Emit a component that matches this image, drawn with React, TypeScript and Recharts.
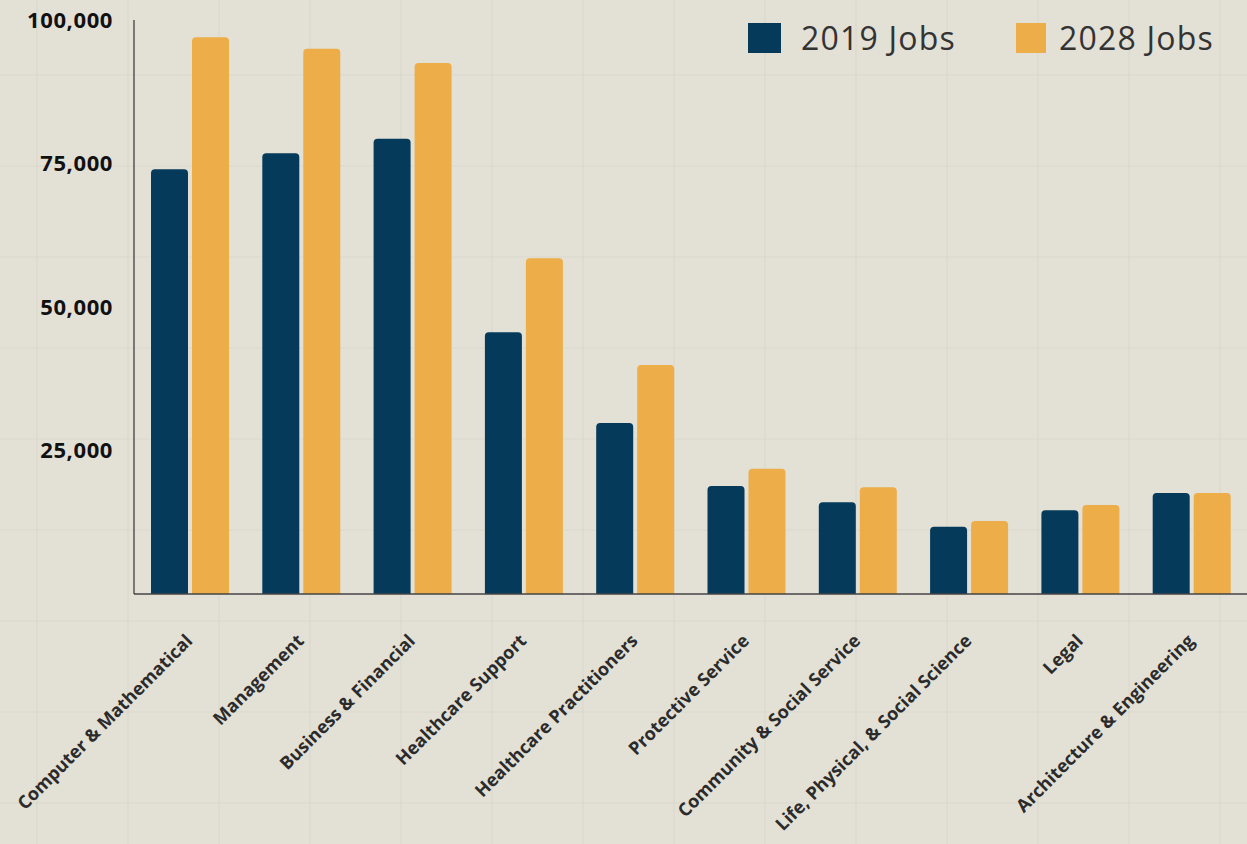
import { BarChart, Bar, XAxis, YAxis } from "recharts";

const categories = [
  "Computer & Mathematical",
  "Management",
  "Business & Financial",
  "Healthcare Support",
  "Healthcare Practitioners",
  "Protective Service",
  "Community & Social Service",
  "Life, Physical, & Social Science",
  "Legal",
  "Architecture & Engineering",
];
const jobs2019 = [74000, 76800, 79300, 45600, 29800, 18800, 16000, 11700, 14600, 17600];
const jobs2028 = [97000, 95000, 92500, 58500, 39900, 21800, 18600, 12700, 15500, 17600];
const yTicks = [0, 25000, 50000, 75000, 100000];

const data = categories.map((c, i) => ({ name: c, j2019: jobs2019[i], j2028: jobs2028[i] }));

const NAVY = "#053A5B";
const GOLD = "#EDAD48";
const FONT = "'Open Sans', 'DejaVu Sans', sans-serif";

function XTick({ x, y, payload }: any) {
  return (
    <g transform={`translate(${x + 4},${y + 40})`}>
      <text textAnchor="end" transform="rotate(-45)" fill="#2b2b2b"
        style={{ fontSize: 18, fontWeight: 700, fontFamily: FONT }}>
        {payload.value}
      </text>
    </g>
  );
}

const legendItems = [
  { c: NAVY, l: "2019 Jobs", left: 748, w: 33 },
  { c: GOLD, l: "2028 Jobs", left: 1016, w: 30 },
];

export default function App() {
  return (
    <div style={{
      position: "absolute", left: 0, top: 0, width: 1247, height: 844,
      background: "#E3E0D6",
      backgroundImage:
        "repeating-linear-gradient(90deg, transparent 0px, transparent 36px, rgba(205,201,189,0.22) 36px, rgba(205,201,189,0.22) 38px, transparent 38px, transparent 91px)," +
        "repeating-linear-gradient(0deg, transparent 0px, transparent 40px, rgba(205,201,189,0.18) 40px, rgba(205,201,189,0.18) 42px, transparent 42px, transparent 91px)",
    }}>
      <style>{"body{margin:0}"}</style>
      <BarChart width={1247} height={844} data={data}
        margin={{ top: 20, right: 0, left: 0, bottom: 0 }}
        barCategoryGap="15%" barGap={4}>
        <XAxis dataKey="name" interval={0} height={250} tick={<XTick />}
          axisLine={{ stroke: "#444", strokeWidth: 1.5 }} tickLine={false} />
        <YAxis width={134} domain={[0, 100000]} ticks={yTicks}
          tickFormatter={(v: number) => (v === 0 ? "" : v.toLocaleString("en-US"))}
          tick={{ fontSize: 22, fontWeight: 700, fill: "#111", fontFamily: FONT, letterSpacing: 0.6 }}
          tickMargin={15} axisLine={{ stroke: "#333", strokeWidth: 1.2 }} tickLine={false} />
        <Bar dataKey="j2019" name="2019 Jobs" fill={NAVY} barSize={37} radius={[4, 4, 0, 0]} isAnimationActive={false} />
        <Bar dataKey="j2028" name="2028 Jobs" fill={GOLD} barSize={37} radius={[4, 4, 0, 0]} isAnimationActive={false} />
      </BarChart>
      {legendItems.map(it => (
        <div key={it.l} style={{ position: "absolute", left: it.left, top: 23, display: "flex", alignItems: "center", fontFamily: FONT }}>
          <div style={{ width: it.w, height: 30, background: it.c }} />
          <span style={{ fontSize: 32, color: "#333", marginLeft: it.w === 33 ? 20 : 13, lineHeight: "30px", letterSpacing: 1.2 }}>{it.l}</span>
        </div>
      ))}
    </div>
  );
}
